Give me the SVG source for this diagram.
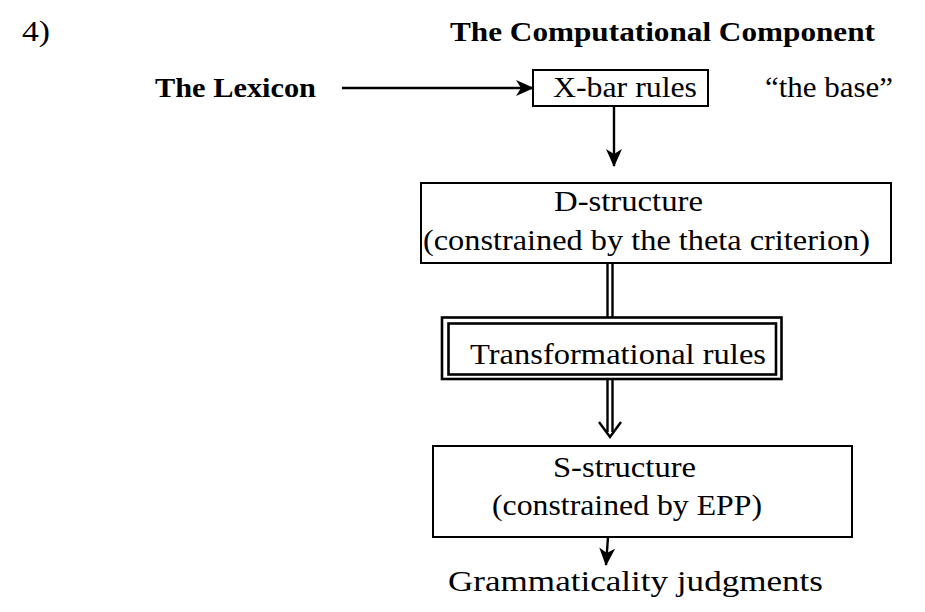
<svg xmlns="http://www.w3.org/2000/svg" width="925" height="612" viewBox="0 0 925 612">
<style>
text{font-family:"Liberation Serif","Times New Roman",serif;font-size:30px;fill:#000}
.b{font-weight:bold;font-size:28px}
.box{fill:#fff;stroke:#000;stroke-width:2}
.ln{stroke:#000;stroke-width:2.4;fill:none}
</style>
<defs>
<marker id="ah" viewBox="0 0 18 16" refX="17" refY="8" markerWidth="18" markerHeight="16" markerUnits="userSpaceOnUse" orient="auto">
<path d="M0,0 L18,8 L0,16 L5,8 z" fill="#000"/>
</marker>
</defs>
<rect width="925" height="612" fill="#fff"/>
<text x="22" y="41" textLength="28" lengthAdjust="spacingAndGlyphs">4)</text>
<text class="b" x="450" y="41" textLength="425" lengthAdjust="spacingAndGlyphs">The Computational Component</text>
<g id="connectors">
<line class="ln" x1="342" y1="88" x2="533" y2="88" marker-end="url(#ah)"/>
<line class="ln" x1="614" y1="106" x2="614" y2="166" marker-end="url(#ah)"/>
<line class="ln" x1="607.5" y1="263" x2="607.5" y2="317" stroke-width="2"/>
<line class="ln" x1="612.5" y1="263" x2="612.5" y2="317" stroke-width="2"/>
<line class="ln" x1="607.5" y1="380" x2="607.5" y2="432" stroke-width="2"/>
<line class="ln" x1="612.5" y1="380" x2="612.5" y2="432" stroke-width="2"/>
<path class="ln" d="M599,422 L610,437 L621,422"/>
<line class="ln" x1="608" y1="537" x2="606" y2="565" marker-end="url(#ah)"/>
</g>
<g id="lexicon">
<text class="b" x="155" y="97" textLength="161" lengthAdjust="spacingAndGlyphs">The Lexicon</text>
</g>
<g id="xbar">
<rect class="box" x="533" y="70" width="175" height="36"/>
<text x="553" y="97" textLength="144" lengthAdjust="spacingAndGlyphs">X-bar rules</text>
</g>
<g id="base">
<text x="765" y="97" textLength="128" lengthAdjust="spacingAndGlyphs">“the base”</text>
</g>
<g id="dstructure">
<rect class="box" x="421" y="183" width="470" height="80"/>
<text x="554" y="211" textLength="149" lengthAdjust="spacingAndGlyphs">D-structure</text>
<text x="423" y="250" textLength="447" lengthAdjust="spacingAndGlyphs">(constrained by the theta criterion)</text>
</g>
<g id="transformational">
<rect x="442" y="317.5" width="339.5" height="61.5" fill="#fff" stroke="#000" stroke-width="2.6"/>
<rect x="448.5" y="323.5" width="327.5" height="51" fill="none" stroke="#000" stroke-width="2.6"/>
<text x="470" y="364" textLength="296" lengthAdjust="spacingAndGlyphs">Transformational rules</text>
</g>
<g id="sstructure">
<rect class="box" x="433" y="446" width="419" height="91"/>
<text x="553" y="477" textLength="143" lengthAdjust="spacingAndGlyphs">S-structure</text>
<text x="492" y="515" textLength="270" lengthAdjust="spacingAndGlyphs">(constrained by EPP)</text>
</g>
<g id="judgments">
<text x="448" y="591" textLength="375" lengthAdjust="spacingAndGlyphs">Grammaticality judgments</text>
</g>
</svg>
